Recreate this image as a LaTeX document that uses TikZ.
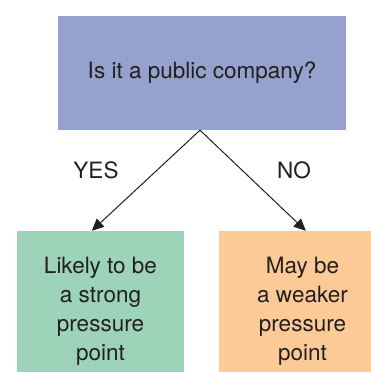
\documentclass[tikz,border=0pt]{standalone}
\usepackage{fontspec}
\setmainfont{TeX Gyre Heros}
\usetikzlibrary{arrows.meta}
\definecolor{topc}{HTML}{96A2CE}
\definecolor{yesc}{HTML}{9DD3B9}
\definecolor{noc}{HTML}{FBCA96}
\definecolor{txt}{HTML}{231F20}
\tikzset{
  box/.style={rectangle, inner sep=0pt, text=txt, align=center,
    font=\fontsize{22.5}{29}\selectfont},
  lbl/.style={text=txt, font=\fontsize{22.5}{29}\selectfont, inner sep=0pt},
  conn/.style={draw=txt, line width=1pt, -{Triangle[length=12pt,width=11pt]}},
}
\begin{document}
\begin{tikzpicture}[x=1pt,y=-1pt]
\useasboundingbox (0,0) rectangle (371,372);
\clip (0,0) rectangle (371,372);
\node[box, fill=topc, minimum width=288pt, minimum height=114pt] (top) at (202,73) {Is it a public company?};
\node[box, fill=yesc, minimum width=167pt, minimum height=160pt] (yes) at (100.5,311) {Likely to be\\a strong\\pressure\\point};
\node[box, fill=noc, minimum width=167pt, minimum height=160pt] (no) at (302.5,311) {May be\\a weaker\\pressure\\point};
\coordinate (apex) at ([xshift=-2pt]top.south);
\coordinate (yestip) at ([xshift=75pt]yes.north west);
\coordinate (notip) at ([xshift=87pt]no.north west);
\draw[conn] (apex) -- (yestip);
\draw[conn] (apex) -- (notip);
\node[lbl] (yeslbl) at (96,170) {YES};
\node[lbl] (nolbl) at (294,170) {NO};
\end{tikzpicture}
\end{document}
